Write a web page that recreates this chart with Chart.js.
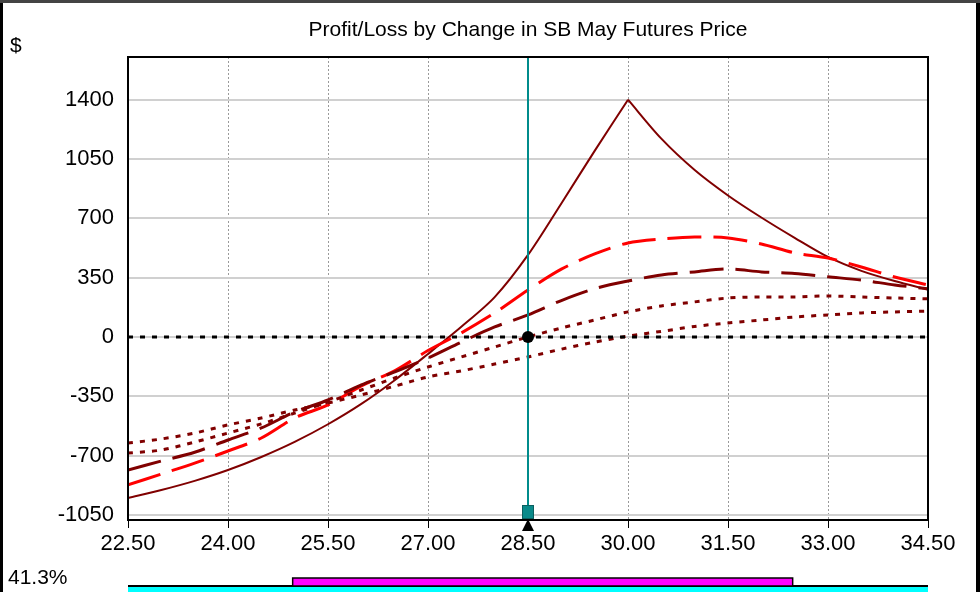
<!DOCTYPE html>
<html>
<head>
<meta charset="utf-8">
<style>
  html, body { margin: 0; padding: 0; background: #fff; }
  #wrap { width: 980px; height: 592px; }
</style>
<script src="https://cdn.jsdelivr.net/npm/chart.js@4.4.1/dist/chart.umd.min.js"></script>
</head>
<body>
<div id="wrap"><canvas id="plChart" width="980" height="592"></canvas></div>
<script>
"use strict";

// futures prices along the x axis
var prices = [22.5, 23.0, 23.5, 24.0, 24.5, 25.0, 25.5, 26.0, 26.5, 27.0, 27.5, 28.0, 28.5,
              29.0, 29.5, 30.0, 30.5, 31.0, 31.5, 32.0, 32.5, 33.0, 33.5, 34.0, 34.5];

// P/L curves
var expiryPL   = [-950, -903, -849, -785, -708, -619, -515, -395, -255, -100, 60, 235, 484,
                  788, 1098, 1400, 1170, 985, 835, 705, 585, 472, 390, 330, 280];
var redDashPL  = [-873, -809, -744, -673, -596, -478, -401, -289, -200, -80, 24, 142, 277,
                  400, 490, 555, 578, 590, 584, 549, 496, 466, 413, 354, 307];
var darkDashPL = [-785, -732, -680, -608, -537, -443, -372, -283, -206, -124, -30, 59, 130,
                  215, 285, 330, 366, 384, 401, 384, 375, 355, 336, 307, 285];
var dotUpperPL = [-685, -667, -620, -567, -513, -449, -384, -313, -242, -177, -118, -59, 0,
                  53, 100, 148, 183, 207, 230, 236, 236, 242, 236, 230, 225];
var dotLowerPL = [-626, -602, -567, -519, -478, -431, -390, -342, -290, -236, -200, -160, -118,
                  -72, -30, 5, 33, 62, 83, 100, 118, 130, 142, 148, 153];

var expiryPeak = 15; // index of the 30.00 corner

var xTicks = [22.5, 24.0, 25.5, 27.0, 28.5, 30.0, 31.5, 33.0, 34.5];
var yTicks = [-1050, -700, -350, 0, 350, 700, 1050, 1400];

var currentPrice = 28.5;
var currentPL = 0;
var rangeLow = 24.97;
var rangeHigh = 32.47;
var probText = "41.3%";
var titleText = "Profit/Loss by Change in SB May Futures Price";

var FONT = "'Liberation Sans', Arial, sans-serif";

function toPoints(vals, from, to) {
  var pts = [];
  for (var i = from || 0; i <= (to === undefined ? vals.length - 1 : to); i++) {
    pts.push({ x: prices[i], y: vals[i] });
  }
  return pts;
}

var overlay = {
  id: "overlay",
  beforeDraw: function(chart) {
    var ctx = chart.ctx;
    ctx.save();
    ctx.fillStyle = "#fff";
    ctx.fillRect(0, 0, chart.width, chart.height);
    ctx.restore();
  },
  afterDatasetsDraw: function(chart) {
    var ctx = chart.ctx;
    var a = chart.chartArea;
    var xs = chart.scales.x, ys = chart.scales.y;
    var cx = Math.round(xs.getPixelForValue(currentPrice));
    ctx.save();

    // current price marker line
    ctx.strokeStyle = "#008b8b";
    ctx.lineWidth = 2;
    ctx.beginPath();
    ctx.moveTo(cx, a.top);
    ctx.lineTo(cx, a.bottom);
    ctx.stroke();

    // current P/L dot
    ctx.fillStyle = "#000";
    ctx.beginPath();
    ctx.arc(cx, ys.getPixelForValue(currentPL), 6, 0, Math.PI * 2);
    ctx.fill();

    // plot box
    ctx.strokeStyle = "#000";
    ctx.lineWidth = 2;
    ctx.strokeRect(a.left, a.top, a.right - a.left, a.bottom - a.top);

    // slider square and pointer
    ctx.fillStyle = "#0a8a8a";
    ctx.fillRect(cx - 6, a.bottom - 15, 12, 14);
    ctx.strokeStyle = "#0b5f5f";
    ctx.lineWidth = 1;
    ctx.strokeRect(cx - 6 + 0.5, a.bottom - 15 + 0.5, 11, 13);
    ctx.fillStyle = "#000";
    ctx.beginPath();
    ctx.moveTo(cx, a.bottom - 1);
    ctx.lineTo(cx + 6, a.bottom + 11);
    ctx.lineTo(cx - 6, a.bottom + 11);
    ctx.closePath();
    ctx.fill();
    ctx.restore();
  },
  afterDraw: function(chart) {
    var ctx = chart.ctx;
    var a = chart.chartArea;
    var xs = chart.scales.x;
    ctx.save();
    ctx.fillStyle = "#000";
    ctx.textBaseline = "middle";
    ctx.font = "21px " + FONT;
    ctx.textAlign = "center";
    ctx.fillText(titleText, (a.left + a.right) / 2, 30);
    ctx.textAlign = "left";
    ctx.fillText("$", 10, 46);
    ctx.fillText(probText, 8, 578);

    // probability strip
    var x0 = xs.getPixelForValue(prices[0]);
    var x1 = xs.getPixelForValue(prices[prices.length - 1]);
    ctx.fillStyle = "#00ffff";
    ctx.fillRect(x0, 587, x1 - x0, 6);
    ctx.fillStyle = "#000";
    ctx.fillRect(x0, 585, x1 - x0, 2);
    var r0 = xs.getPixelForValue(rangeLow), r1 = xs.getPixelForValue(rangeHigh);
    ctx.fillStyle = "#ff00ff";
    ctx.fillRect(r0, 578, r1 - r0, 8);
    ctx.strokeStyle = "#000";
    ctx.lineWidth = 1.5;
    ctx.strokeRect(r0, 578, r1 - r0, 8);

    // window frame
    ctx.fillStyle = "#000";
    ctx.fillRect(0, 0, 3, chart.height);
    ctx.fillRect(976, 0, 4, chart.height);
    ctx.fillStyle = "#444";
    ctx.fillRect(0, 0, chart.width, 3);
    ctx.restore();
  }
};

var lineStyle = function(label, pts, color, width, dash, tension) {
  return {
    label: label,
    data: pts,
    borderColor: color,
    borderWidth: width,
    borderDash: dash,
    pointRadius: 0,
    fill: false,
    tension: tension
  };
};

new Chart(document.getElementById("plChart"), {
  type: "line",
  plugins: [overlay],
  data: {
    datasets: [
      {
        label: "zero",
        data: [{ x: prices[0], y: 0 }, { x: prices[prices.length - 1], y: 0 }],
        borderColor: "#000",
        borderWidth: 3,
        borderDash: [5, 7],
        pointRadius: 0
      },
      lineStyle("T4", toPoints(dotLowerPL), "#800000", 3, [5, 7], 0.3),
      lineStyle("T3", toPoints(dotUpperPL), "#800000", 3, [5, 7], 0.3),
      lineStyle("T2", toPoints(darkDashPL), "#800000", 3, [34, 12], 0.3),
      lineStyle("T1", toPoints(redDashPL), "#ff0000", 3, [34, 12], 0.3),
      // expiry curve in two pieces so the corner at 30.00 stays sharp
      lineStyle("Expiry", toPoints(expiryPL, 0, expiryPeak), "#800000", 2, [], 0.3),
      lineStyle("Expiry ", toPoints(expiryPL, expiryPeak), "#800000", 2, [], 0.3)
    ]
  },
  options: {
    responsive: false,
    animation: false,
    devicePixelRatio: 1,
    layout: { padding: { left: 0, right: 52, top: 57, bottom: 0 } },
    plugins: {
      legend: { display: false },
      title: { display: false },
      tooltip: { enabled: false }
    },
    scales: {
      x: {
        type: "linear",
        min: 22.5,
        max: 34.5,
        afterBuildTicks: function(scale) {
          scale.ticks = xTicks.map(function(v) { return { value: v }; });
        },
        afterFit: function(scale) { scale.height = 72; },
        grid: {
          color: "#9a9a9a",
          lineWidth: 1,
          tickColor: "#000",
          tickLength: 8,
          tickWidth: 1,
          tickBorderDash: [1, 0]
        },
        border: { display: false, dash: [2, 2] },
        ticks: {
          color: "#000",
          font: { family: FONT, size: 22 },
          padding: 3,
          maxRotation: 0,
          autoSkip: false,
          callback: function(v) { return Number(v).toFixed(2); }
        }
      },
      y: {
        type: "linear",
        min: -1080,
        max: 1652,
        afterBuildTicks: function(scale) {
          scale.ticks = yTicks.map(function(v) { return { value: v }; });
        },
        afterFit: function(scale) { scale.width = 128; },
        grid: {
          color: "#d0d0d0",
          lineWidth: 2,
          drawTicks: false
        },
        border: { display: false },
        ticks: {
          color: "#000",
          font: { family: FONT, size: 22 },
          padding: 14,
          autoSkip: false,
          callback: function(v) { return String(v); }
        }
      }
    }
  }
});
</script>
</body>
</html>
